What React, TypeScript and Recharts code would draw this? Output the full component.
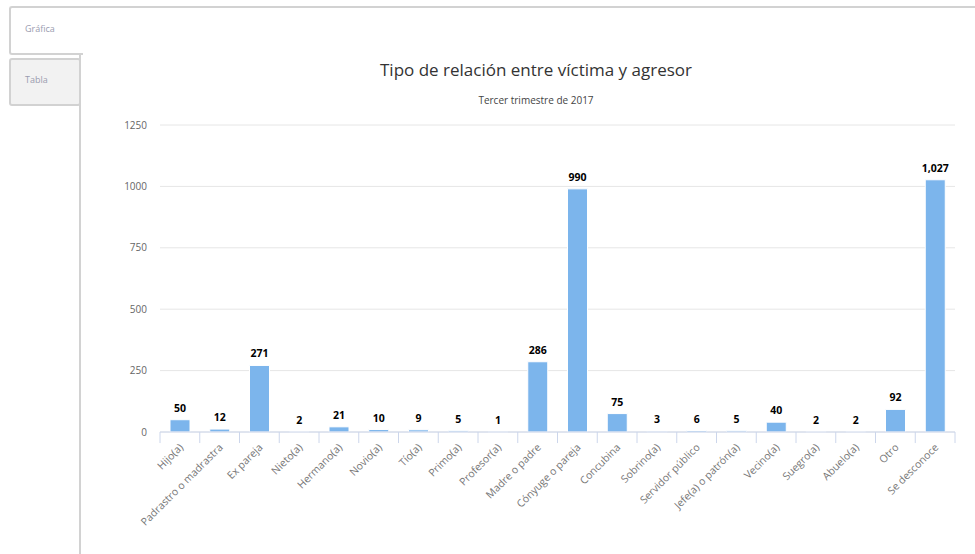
import { BarChart, Bar, XAxis, YAxis, CartesianGrid, LabelList, ReferenceLine } from "recharts";

const categories = [
  "Hijo(a)",
  "Padrastro o madrastra",
  "Ex pareja",
  "Nieto(a)",
  "Hermano(a)",
  "Novio(a)",
  "Tío(a)",
  "Primo(a)",
  "Profesor(a)",
  "Madre o padre",
  "Cónyuge o pareja",
  "Concubina",
  "Sobrino(a)",
  "Servidor público",
  "Jefe(a) o patrón(a)",
  "Vecino(a)",
  "Suegro(a)",
  "Abuelo(a)",
  "Otro",
  "Se desconoce",
];
const casos = [50, 12, 271, 2, 21, 10, 9, 5, 1, 286, 990, 75, 3, 6, 5, 40, 2, 2, 92, 1027];
const yTicks = [0, 250, 500, 750, 1000, 1250];

const data = categories.map((name, i) => ({ name, casos: casos[i] }));

const FONT = '"Open Sans", "DejaVu Sans", sans-serif';
const BORDER = "#d2d2d2";

// rotated category labels, anchored at the end like the original
function XTick(props: any) {
  const { x, y, payload } = props;
  return (
    <g transform={`translate(${x + 4},${y + 14})`}>
      <text
        x={0}
        y={0}
        textAnchor="end"
        transform="rotate(-45)"
        fill="#777"
        fontSize={10.5}
        fontFamily={FONT}
      >
        {payload.value}
      </text>
    </g>
  );
}

function ValueLabel(props: any) {
  const { x, y, width, value } = props;
  return (
    <text
      x={x + width / 2}
      y={y - 8}
      textAnchor="middle"
      fontSize={10.5}
      fontWeight="bold"
      fontFamily={FONT}
      fill="#000"
      stroke="#fff"
      strokeWidth={2}
      paintOrder="stroke"
    >
      {Number(value).toLocaleString("en-US")}
    </text>
  );
}

export default function App() {
  return (
    <div
      style={{
        position: "absolute",
        left: 0,
        top: 0,
        width: 975,
        height: 554,
        background: "#fff",
        overflow: "hidden",
        fontFamily: FONT,
      }}
    >
      {/* panel borders */}
      <div
        style={{
          position: "absolute",
          left: 79,
          top: 6,
          width: 900,
          height: 560,
          borderTop: `2px solid ${BORDER}`,
          borderLeft: `2px solid ${BORDER}`,
        }}
      />
      {/* tabs */}
      <div
        style={{
          position: "absolute",
          left: 9,
          top: 6,
          width: 72,
          height: 45,
          background: "#fff",
          borderTop: `2px solid ${BORDER}`,
          borderLeft: `2px solid ${BORDER}`,
          borderBottom: `2px solid ${BORDER}`,
          borderRadius: "3px 0 0 3px",
        }}
      >
        <span style={{ position: "absolute", left: 14, top: 14, fontSize: 9, color: "#9a9cb0" }}>Gráfica</span>
      </div>
      <div
        style={{
          position: "absolute",
          left: 9,
          top: 58,
          width: 68,
          height: 44,
          background: "#f2f2f2",
          border: `2px solid ${BORDER}`,
          borderRadius: 3,
        }}
      >
        <span style={{ position: "absolute", left: 14, top: 13, fontSize: 9, color: "#9a9cb0" }}>Tabla</span>
      </div>

      {/* titles */}
      <div
        style={{
          position: "absolute",
          left: 236,
          width: 600,
          top: 58,
          textAlign: "center",
          fontSize: 17,
          color: "#333",
        }}
      >
        Tipo de relación entre víctima y agresor
      </div>
      <div
        style={{
          position: "absolute",
          left: 236,
          width: 600,
          top: 93,
          textAlign: "center",
          fontSize: 10,
          color: "#444",
        }}
      >
        Tercer trimestre de 2017
      </div>

      <div style={{ position: "absolute", left: 0, top: 0 }}>
        <BarChart
          width={975}
          height={554}
          data={data}
          margin={{ top: 125, right: 20, bottom: 0, left: 100 }}
          barCategoryGap="0%"
        >
          <CartesianGrid vertical={false} stroke="#e6e6e6" />
          <XAxis
            dataKey="name"
            interval={0}
            height={122}
            tick={<XTick />}
            tickLine={false}
            tickSize={0}
            axisLine={{ stroke: "#ccd6eb" }}
          />
          <YAxis
            width={60}
            domain={[0, 1250]}
            ticks={yTicks}
            axisLine={false}
            tickLine={false}
            tickSize={10}
            tickMargin={3}
            tick={{ fill: "#666", fontSize: 10, fontFamily: FONT }}
          />
          {/* tick marks on category boundaries */}
          {categories.map((c) => (
            <ReferenceLine
              key={c}
              segment={[
                { x: c, y: 0 },
                { x: c, y: -45 },
              ]}
              position="start"
              ifOverflow="visible"
              stroke="#ccd6eb"
            />
          ))}
          <ReferenceLine
            segment={[
              { x: categories[categories.length - 1], y: 0 },
              { x: categories[categories.length - 1], y: -45 },
            ]}
            position="end"
            ifOverflow="visible"
            stroke="#ccd6eb"
          />
          <Bar
            dataKey="casos"
            fill="#7cb5ec"
            stroke="#fff"
            strokeWidth={1}
            barSize={20}
            isAnimationActive={false}
          >
            <LabelList dataKey="casos" content={<ValueLabel />} />
          </Bar>
        </BarChart>
      </div>
    </div>
  );
}
